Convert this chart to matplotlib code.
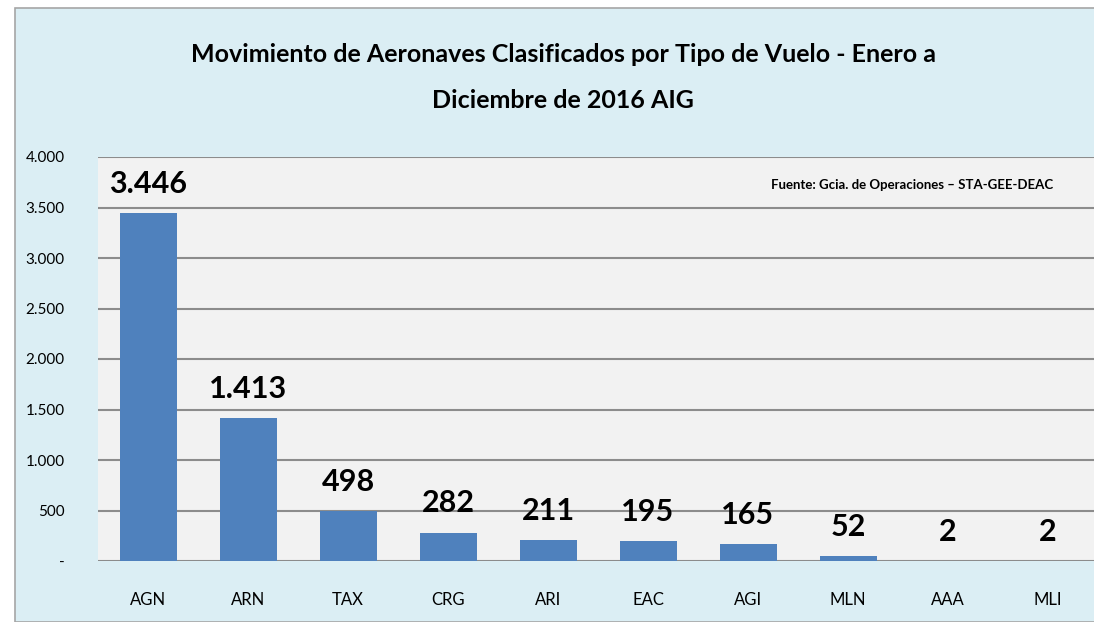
import matplotlib.pyplot as plt
from matplotlib.patches import Rectangle
from matplotlib.ticker import FuncFormatter

categorias = ["AGN", "ARN", "TAX", "CRG", "ARI", "EAC", "AGI", "MLN", "AAA", "MLI"]
valores = [3446, 1413, 498, 282, 211, 195, 165, 52, 2, 2]
ticks_y = [0, 500, 1000, 1500, 2000, 2500, 3000, 3500, 4000]

FUENTE = ["Lato", "DejaVu Sans"]
W, H = 1094, 622

fig = plt.figure(figsize=(W / 100, H / 100), dpi=100)
fig.patch.set_facecolor("white")

# marco del grafico (fondo celeste)
fig.patches.append(Rectangle((15 / W, 0), 1.0, 1 - 8 / H, transform=fig.transFigure,
                             facecolor="#DBEEF4", edgecolor="#A6A6A6", linewidth=1.2, zorder=-5))

ax = fig.add_axes([98 / W, (H - 561) / H, 1000 / W, 404 / H])
ax.set_zorder(2)
ax.set_facecolor("#F2F2F2")

x = range(len(categorias))
ax.bar(x, valores, width=0.57, color="#4F81BD", zorder=3)

ax.set_xlim(-0.5, len(categorias) - 0.5)
ax.set_ylim(0, 4000)
ax.set_yticks(ticks_y)
ax.yaxis.set_major_formatter(FuncFormatter(
    lambda v, p: "-" if v == 0 else f"{int(v):,}".replace(",", ".")))
ax.grid(axis="y", color="#8C8C8C", linewidth=1.5, zorder=1)
ax.set_axisbelow(True)
for s in ax.spines.values():
    s.set_visible(False)
ax.tick_params(length=0)
ax.tick_params(axis="y", pad=24)
ax.tick_params(axis="x", pad=22)
ax.set_xticks(list(x))
ax.set_xticklabels(categorias)
for lab in ax.get_xticklabels():
    lab.set_family(FUENTE)
    lab.set_fontsize(12)
for lab in ax.get_yticklabels():
    lab.set_family(FUENTE)
    lab.set_fontsize(11)

for i, v in enumerate(valores):
    ax.text(i, v + 150, f"{v:,}".replace(",", "."), ha="center", va="bottom",
            fontsize=22, fontweight="bold", family=FUENTE, zorder=4)

ax.text(0.955, 0.93, "Fuente: Gcia. de Operaciones \u2013 STA-GEE-DEAC", transform=ax.transAxes,
        ha="right", va="center", fontsize=9.5, fontweight="bold", family=FUENTE)

fig.text(0.515, 1 - 55 / H, "Movimiento de Aeronaves Clasificados por Tipo de Vuelo - Enero a",
         ha="center", va="center", fontsize=18, fontweight="bold", family=FUENTE)
fig.text(0.515, 1 - 100 / H, "Diciembre de 2016 AIG",
         ha="center", va="center", fontsize=18, fontweight="bold", family=FUENTE)

fig.savefig("out.png", dpi=100)
